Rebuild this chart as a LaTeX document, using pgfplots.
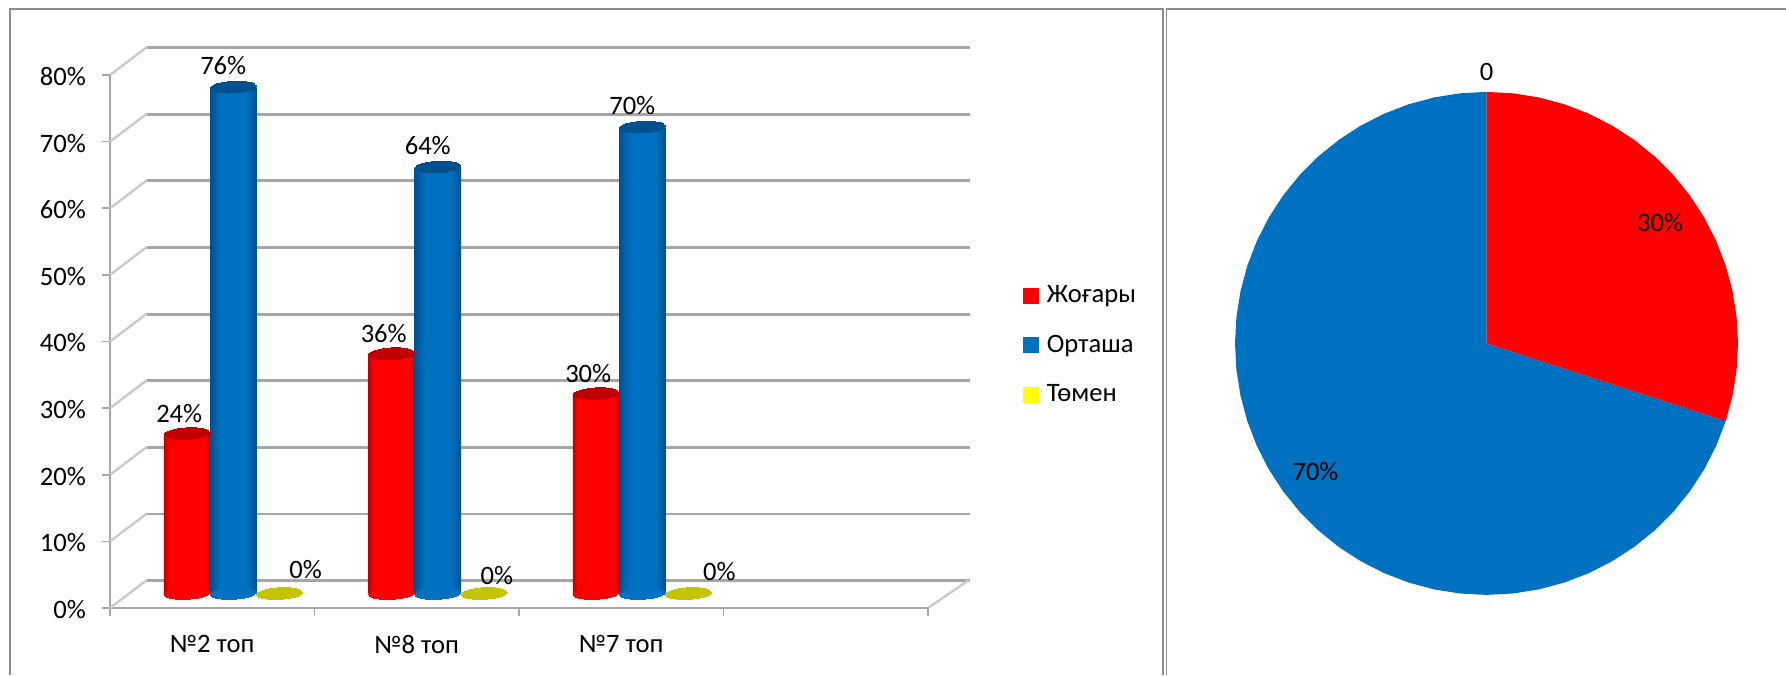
\documentclass[border=0pt]{standalone}
\usepackage{fontspec}
\setmainfont{Carlito}
\usepackage{pgfplots}
\pgfplotsset{compat=1.18}

% reference pixels are drawn at 0.5pt each
\definecolor{cred}{HTML}{FF0000}
\definecolor{credd}{HTML}{C00000}
\definecolor{cblue}{HTML}{0070C0}
\definecolor{cblued}{HTML}{00508F}
\definecolor{cyel}{HTML}{FFFF00}
\definecolor{cyeld}{HTML}{C4C400}
\definecolor{wall}{HTML}{A6A6A6}
\definecolor{panel}{HTML}{8C8C8C}

\pgfdeclarehorizontalshading{cylred}{100bp}{color(0bp)=(credd);color(25bp)=(credd);color(30bp)=(cred);color(70bp)=(cred);color(75bp)=(credd);color(100bp)=(credd)}
\pgfdeclarehorizontalshading{cylblue}{100bp}{color(0bp)=(cblued);color(25bp)=(cblued);color(36bp)=(cblue);color(64bp)=(cblue);color(75bp)=(cblued);color(100bp)=(cblued)}

\pgfplotsset{
  cap/.style={only marks, mark=*, mark size=11.5pt, forget plot,
    mark options={rotate=3, yscale=.25, draw=#1, fill=#1, line width=0pt}},
  sq/.style={legend image code/.code={\fill[#1] (0pt,-3.75pt) rectangle (7.5pt,3.75pt);}},
  pct/.style={nodes near coords={\pgfmathprintnumber{\pgfplotspointmeta}\%}},
}

% one plot per bar, so each bar gets its own shading
% {shading}{base colour}{top colour}{x}{value}{label xshift}{label yshift}
\newcommand{\cyl}[7]{%
  \addplot[cap=#2] coordinates {(#4,0)};
  \addplot[ybar, bar shift=0pt, bar width=23.25pt, draw=none, shading=#1, forget plot, pct,
    every node near coord/.append style={xshift=#6, yshift=#7}] coordinates {(#4,#5)};
  \addplot[cap=#3] coordinates {(#4,#5)};
}
% zero height, only the disc shows: {x}{value}{label xshift}{label yshift}
\newcommand{\disc}[4]{%
  \addplot[cap=cyeld, pct,
    every node near coord/.append style={xshift=#3, yshift=#4}] coordinates {(#1,#2)};
}

\begin{document}
\begin{tikzpicture}[font=\fontsize{13.3}{16}\selectfont]
\useasboundingbox (0pt,0pt) rectangle (893pt,-337.5pt);

% panel frames
\draw[panel, line width=.7pt] (5pt,-337.5pt) -- (5pt,-4.5pt) -- (581.5pt,-4.5pt) -- (581.5pt,-337.5pt);
\draw[panel, line width=.7pt] (583.2pt,-337.5pt) -- (583.2pt,-4.5pt) -- (893pt,-4.5pt);

% back wall
\begin{axis}[
  at={(73.5pt,-290.3pt)}, anchor=south west,
  scale only axis, width=411.5pt, height=266.5pt,
  xmin=0, xmax=4, ymin=0, ymax=80,
  xtick=\empty, ytick distance=10, yticklabels={},
  ymajorgrids, major grid style={wall, line width=1.4pt},
  axis line style={draw=none}, tick style={draw=none},
]
\end{axis}

% front axis with ticks and labels
\begin{axis}[
  at={(55pt,-304pt)}, anchor=south west,
  scale only axis, width=409pt, height=266.5pt,
  xmin=0, xmax=4, ymin=0, ymax=80,
  clip=false,
  axis x line*=bottom, axis y line*=left,
  axis line style={wall, line width=1pt, -},
  tick style={wall, line width=.8pt}, tick align=outside, major tick length=4pt,
  xtick={0,1,2,3,4}, xticklabels={},
  extra x ticks={.5,1.5,2.5},
  extra x tick labels={№2 топ,№8 топ,№7 топ},
  extra x tick style={major tick length=0pt, xticklabel style={yshift=-10pt}},
  ytick distance=10,
  yticklabel={\pgfmathprintnumber{\tick}\%},
  /pgf/number format/assume math mode=true,
  yticklabel style={xshift=-4.5pt, yshift=-.7pt},
]
\pgfplotsinvokeforeach{0,10,...,80}{
  \draw[wall!60, line width=1.2pt] (axis cs:0,#1) -- ++(18.5pt,14pt);
}
\draw[wall!60, line width=1.2pt] (axis cs:4,0) -- ++(20.5pt,14pt);
\end{axis}

% cylinders, half way into the depth
\begin{axis}[
  at={(65.5pt,-296.75pt)}, anchor=south west,
  scale only axis, width=409pt, height=266.5pt,
  xmin=0, xmax=4, ymin=0, ymax=80,
  hide axis, clip=false,
  /pgf/number format/assume math mode=true,
  every node near coord/.append style={anchor=center, text=black},
  legend style={at={(rel axis cs:1.09,.582)}, anchor=north west, draw=none, fill=none,
    row sep=12.6pt, inner sep=0pt, nodes={inner sep=1pt},
    /tikz/every odd column/.append style={column sep=3pt}},
  legend cell align=left,
]
\addlegendimage{sq=cred}\addlegendentry{Жоғары}
\addlegendimage{sq=cblue}\addlegendentry{Орташа}
\addlegendimage{sq=cyel}\addlegendentry{Төмен}

\cyl{cylred}{cred}{credd}{0.275}{24}{-4pt}{10pt}
\cyl{cylblue}{cblue}{cblued}{0.5}{76}{-5pt}{11pt}
\disc{0.727}{0}{13pt}{12pt}

\cyl{cylred}{cred}{credd}{1.275}{36}{-4pt}{10pt}
\cyl{cylblue}{cblue}{cblued}{1.5}{64}{-5pt}{11pt}
\disc{1.727}{0}{6.3pt}{9pt}

\cyl{cylred}{cred}{credd}{2.275}{30}{-4pt}{10pt}
\cyl{cylblue}{cblue}{cblued}{2.5}{70}{-5pt}{11pt}
\disc{2.727}{0}{15.4pt}{11pt}
\end{axis}

% pie
\begin{axis}[
  at={(743.25pt,-171.7pt)}, anchor=center,
  scale only axis, width=251.5pt, height=251.5pt,
  xmin=-1, xmax=1, ymin=-1, ymax=1,
  hide axis, clip=false,
]
\addplot[fill=cblue, draw=none, data cs=polar] coordinates {
  (0,0) (-18,1) (-24,1) (-30,1) (-36,1) (-42,1) (-48,1) (-54,1) (-60,1) (-66,1) (-72,1) (-78,1)
  (-84,1) (-90,1) (-96,1) (-102,1) (-108,1) (-114,1) (-120,1) (-126,1) (-132,1) (-138,1) (-144,1)
  (-150,1) (-156,1) (-162,1) (-168,1) (-174,1) (-180,1) (-186,1) (-192,1) (-198,1) (-204,1)
  (-210,1) (-216,1) (-222,1) (-228,1) (-234,1) (-240,1) (-246,1) (-252,1) (-258,1) (-264,1) (-270,1)
};
\addplot[fill=cred, draw=none, data cs=polar] coordinates {
  (0,0) (90,1) (84,1) (78,1) (72,1) (66,1) (60,1) (54,1) (48,1) (42,1) (36,1) (30,1) (24,1)
  (18,1) (12,1) (6,1) (0,1) (-6,1) (-12,1) (-18,1)
};
\node at (axis cs:0,1.08) {0};
\node at (axis cs:.69,.48) {30\%};
\node at (axis cs:-.68,-.51) {70\%};
\end{axis}
\end{tikzpicture}
\end{document}
